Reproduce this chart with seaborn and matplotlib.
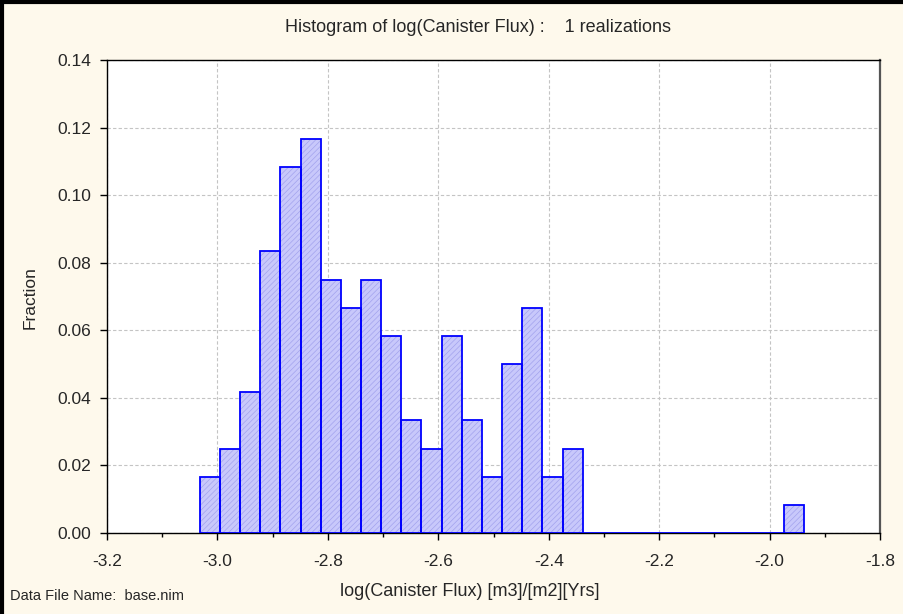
import numpy as np
import pandas as pd
import matplotlib
matplotlib.use("Agg")
import matplotlib.pyplot as plt
import seaborn as sns
from matplotlib.lines import Line2D
from matplotlib.ticker import MultipleLocator

# ---- data ----
bin_left = -3.032
bin_width = 0.0365
counts = [2, 3, 5, 10, 13, 14, 9, 8, 9, 7, 4, 3, 7, 4, 2, 6, 8, 2, 3,
          0, 0, 0, 0, 0, 0, 0, 0, 0, 0, 1]
n_realizations = 120
fractions = [c / n_realizations for c in counts]
x_ticks = [-3.2, -3.0, -2.8, -2.6, -2.4, -2.2, -2.0, -1.8]
y_ticks = [0.00, 0.02, 0.04, 0.06, 0.08, 0.10, 0.12, 0.14]

n_bins = len(counts)
bin_right = bin_left + n_bins * bin_width
centers = bin_left + (np.arange(n_bins) + 0.5) * bin_width
df = pd.DataFrame({"x": centers, "w": fractions})

sns.set_style("white")
plt.rcParams['font.family'] = ['Liberation Sans', 'DejaVu Sans']
plt.rcParams['hatch.linewidth'] = 0.5

bg = '#fef9ec'
fs = 12.5
fig = plt.figure(figsize=(9.04, 6.14), dpi=100, facecolor=bg)
ax = fig.add_axes([107/904, 1 - 533/614, (880-107)/904, (533-60)/614])
ax.set_facecolor('white')

hist_kws = dict(data=df, x="x", weights="w", bins=n_bins,
                binrange=(bin_left, bin_right), stat="count", ax=ax)
# hatched fill layer
sns.histplot(**hist_kws, color='#c8c8fb', edgecolor='#a2a2ee', linewidth=0,
             alpha=1, hatch='//////', zorder=2)
# outline layer
sns.histplot(**hist_kws, fill=False, color='#0000ff', linewidth=1.3, zorder=3)

ax.set_xlim(-3.2, -1.8)
ax.set_ylim(0, 0.14)
ax.set_xticks(x_ticks)
ax.set_xticklabels([f"{v:.1f}" for v in x_ticks])
ax.set_yticks(y_ticks)
ax.set_yticklabels([f"{v:.2f}" for v in y_ticks])
ax.xaxis.set_minor_locator(MultipleLocator(0.1))

ax.grid(True, which='major', color='#c4c4c4', linestyle=(0, (3, 2)), linewidth=0.8, zorder=0)
ax.set_axisbelow(True)

for s in ['left', 'bottom', 'top']:
    ax.spines[s].set_color('black')
    ax.spines[s].set_linewidth(1.0)
ax.spines['right'].set_color('#555555')
ax.spines['right'].set_linewidth(1.6)

ax.tick_params(axis='both', which='major', direction='out', length=5, width=1,
               color='black', labelsize=fs)
ax.tick_params(axis='x', which='minor', direction='out', length=3, width=1,
               color='black', bottom=True)
ax.tick_params(axis='x', which='major', pad=10, bottom=True)
ax.tick_params(axis='y', which='major', pad=6.5, left=True)

ax.set_xlabel('log(Canister Flux) [m3]/[m2][Yrs]', fontsize=13, va='center')
ax.xaxis.set_label_coords((470 - 107) / 773, (533 - 591) / 473)
ax.set_ylabel('Fraction', fontsize=fs, va='center')
ax.yaxis.set_label_coords((30 - 107) / 773, (533 - 298) / 473)

fig.text(478/904, 1 - 27/614, 'Histogram of log(Canister Flux) :    1 realizations',
         ha='center', va='center', fontsize=13)
fig.text(10/904, 1 - 596/614, 'Data File Name:  base.nim', ha='left', va='center',
         fontsize=10.5)

# figure border lines (left and top)
fig.add_artist(Line2D([0.002, 0.002], [0, 1], transform=fig.transFigure,
                      color='black', linewidth=3))
fig.add_artist(Line2D([0, 1], [0.997, 0.997], transform=fig.transFigure,
                      color='black', linewidth=3))

fig.savefig('out.png', dpi=100, facecolor=bg)
